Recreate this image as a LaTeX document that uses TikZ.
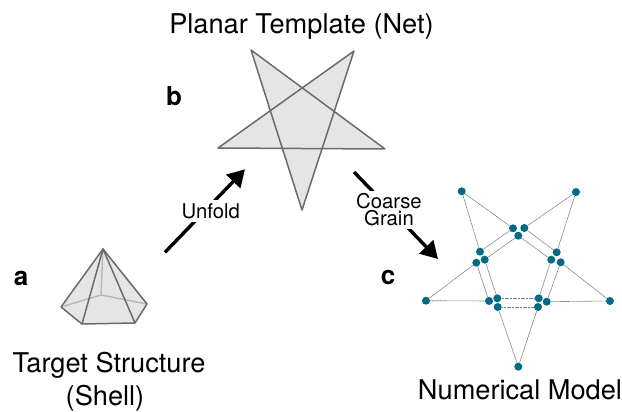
\documentclass[tikz,border=0pt]{standalone}
\usepackage{fontspec}
\setmainfont{TeX Gyre Heros}
\usepackage{xcolor}
\usetikzlibrary{arrows.meta}
\definecolor{meshteal}{HTML}{006A87}
\begin{document}
\begin{tikzpicture}[
    x=1pt, y=-1pt,
    every node/.style={font=\fontsize{27.2}{33}\selectfont, align=center},
    panel/.style={font=\fontsize{26}{32}\selectfont\bfseries},
    steplabel/.style={font=\fontsize{20.3}{17}\selectfont, fill=white, inner sep=3pt},
    facet/.style={draw=black!58, line width=1.5pt, line join=round},
    hidden/.style={draw=black!28, line width=1.4pt},
    bigarr/.style={-{Triangle[length=17pt,width=19pt]}, line width=3.4pt},
    dot/.style={circle, fill=meshteal, inner sep=0pt, minimum size=8pt},
    beam/.style={draw=black!50, line width=0.6pt, dash pattern=on 1.2pt off 0.4pt}
]
\useasboundingbox (0,0) rectangle (622,412);

% net
\coordinate (tl) at (251,50);
\coordinate (tr) at (354,51);
\coordinate (rr) at (385,149);
\coordinate (bm) at (302,210);
\coordinate (ll) at (218,148);
\fill[black!10] (tl) -- (bm) -- (tr) -- (ll) -- (rr) -- cycle;
\draw[facet] (tl) -- (bm) -- (tr) -- (ll) -- (rr) -- cycle;

% shell
\coordinate (apex) at (103,249);
\coordinate (sl) at (61,307);
\coordinate (fl) at (82,324);
\coordinate (fr) at (135,323);
\coordinate (sr) at (147,304);
\coordinate (back) at (101,295);
\fill[black!10] (apex) -- (sl) -- (fl) -- (fr) -- (sr) -- cycle;
\draw[hidden] (apex) -- (back) (sl) -- (back) -- (sr);
\draw[facet] (apex) -- (sl) -- (fl) -- (fr) -- (sr) -- cycle;
\draw[facet] (fl) -- (apex) -- (fr);

% model
\foreach \name/\x/\y in {
    p1/461.7/191.3, p2/576/192, p3/610/301, p4/518.3/366.7, p5/426/300.7,
    t1/513/228.3, t2/524.3/228, t3/518.3/235.7,
    l1/480/251.7, l2/476.3/262.7, l3/484.7/259.7,
    r1/556.7/252.3, r2/551.3/259.7, r3/560.7/262.3,
    bl1/489/301, bl2/497.3/298.3, bl3/497.7/307,
    br1/538.7/298.3, br2/546.7/301.7, br3/538/307}
    \node[dot] (\name) at (\x,\y) {};
\foreach \a/\b in {
    p1/t1, p1/l1, p2/t2, p2/r1, p5/l2, p5/bl1, p3/r3, p3/br2, p4/bl3, p4/br3,
    t1/l1, t3/l3, t3/r2, t2/r1, l2/bl1, l3/bl2, r2/br1, r3/br2, bl2/br1, bl3/br3}
    \draw[beam] (\a) -- (\b);

% arrows
\coordinate (unfoldstart) at (165,252.3);
\coordinate (unfoldend) at (245,169.3);
\coordinate (grainstart) at (354,172);
\coordinate (grainend) at (438,259);
\draw[bigarr] (unfoldstart) -- (unfoldend);
\draw[bigarr] (grainstart) -- (grainend);
\node[steplabel] (unfold) at (210.7,211) {Unfold};
\node[steplabel] (grain) at (389,210) {Coarse\\Grain};

% labels
\node (nettitle) at (301.5,27) {Planar Template (Net)};
\node (shelltitle) at (109,381.5) {Target Structure\\(Shell)\hspace*{8pt}};
\node (modeltitle) at (520,390) {Numerical Model};
\node[panel] (a) at (21,278) {a};
\node[panel] (b) at (174,96) {b};
\node[panel] (c) at (388,277) {c};
\end{tikzpicture}
\end{document}
